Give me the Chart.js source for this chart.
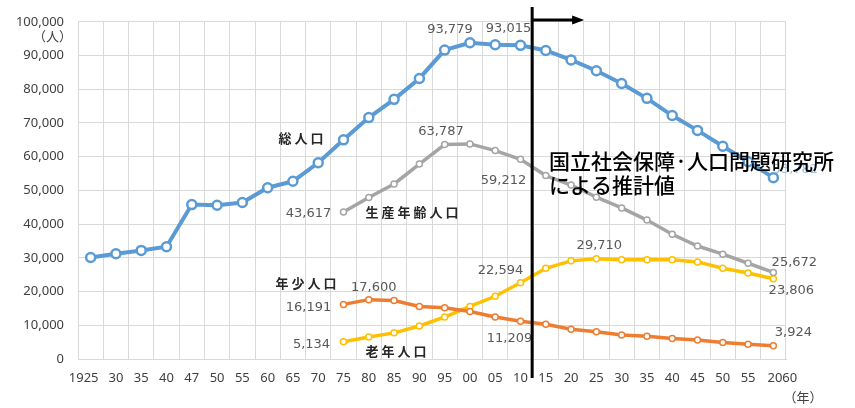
<!DOCTYPE html>
<html lang="ja">
<head>
<meta charset="utf-8">
<script src="https://cdn.jsdelivr.net/npm/chart.js@4.4.1/dist/chart.umd.min.js"></script>
<style>
  html, body { margin: 0; padding: 0; background: #fff; }
  #wrap { width: 855px; height: 408px; position: relative; }
</style>
</head>
<body>
<div id="wrap"><canvas id="c"></canvas></div>
<script>
// Population by age group, 1925-2060 (estimates after 2010)
const years = ["1925", "30", "35", "40", "47", "50", "55", "60", "65", "70", "75", "80", "85", "90",
  "95", "00", "05", "10", "15", "20", "25", "30", "35", "40", "45", "50", "55", "2060"];

const total = [30100, 31200, 32200, 33300, 45800, 45600, 46400, 50800, 52700, 58200, 65000, 71600,
  77000, 83200, 91600, 93779, 93200, 93015, 91500, 88700, 85500, 81700, 77300, 72200, 67800,
  63100, 58500, 53782];

// 1975 onwards only
const pad = [null, null, null, null, null, null, null, null, null, null];
const working = pad.concat([43617, 47900, 51900, 57800, 63600, 63787, 61800, 59212, 54400, 51600,
  48000, 44800, 41200, 37000, 33500, 31100, 28400, 25672]);
const young = pad.concat([16191, 17600, 17350, 15600, 15200, 14100, 12450, 11209, 10300, 8800,
  8050, 7100, 6750, 6100, 5600, 4900, 4400, 3924]);
const old = pad.concat([5134, 6550, 7750, 9800, 12450, 15600, 18600, 22594, 26900, 29100,
  29710, 29400, 29400, 29400, 28800, 26900, 25500, 23806]);

const yTicks = [0, 10000, 20000, 30000, 40000, 50000, 60000, 70000, 80000, 90000, 100000];

const BLUE = "#5B9BD5";
const GRAY = "#A5A5A5";
const ORANGE = "#ED7D31";
const YELLOW = "#FFC000";
const GRID = "#D9D9D9";
const TICK = "#404040";
const LABEL = "#595959";

const fmt = (v) => v.toLocaleString("en-US");

// which points get a value label, and where it sits relative to the point
const valueLabels = [
  { ds: 0, i: 15, dx: -20, dy: -13 },
  { ds: 0, i: 17, dx: -12, dy: -17 },
  { ds: 0, i: 27, dx: 22, dy: -8, color: "#9DBDE0" },
  { ds: 1, i: 10, dx: -35, dy: 2 },
  { ds: 1, i: 15, dx: -29, dy: -12 },
  { ds: 1, i: 17, dx: -17, dy: 21 },
  { ds: 1, i: 27, dx: 21, dy: -10 },
  { ds: 2, i: 10, dx: -35, dy: 3 },
  { ds: 2, i: 11, dx: 5, dy: -12 },
  { ds: 2, i: 17, dx: -11, dy: 17 },
  { ds: 2, i: 27, dx: 20, dy: -13 },
  { ds: 3, i: 10, dx: -32, dy: 3 },
  { ds: 3, i: 17, dx: -20, dy: -12 },
  { ds: 3, i: 20, dx: 3, dy: -13 },
  { ds: 3, i: 27, dx: 18, dy: 12 },
];

const seriesNames = [
  { text: "総人口", x: 301, y: 138 },
  { text: "生産年齢人口", x: 412, y: 212 },
  { text: "年少人口", x: 306, y: 283 },
  { text: "老年人口", x: 396, y: 351 },
];

const overlay = {
  id: "overlay",
  afterDatasetsDraw(chart) {
    const { ctx, scales: { x } } = chart;
    ctx.save();

    // x tick labels (the two four-digit end labels sit a little outward)
    ctx.font = "13px 'Noto Sans', sans-serif";
    ctx.fillStyle = TICK;
    ctx.textAlign = "center";
    ctx.textBaseline = "middle";
    const last = years.length - 1;
    years.forEach((t, i) => {
      const nudge = i === 0 ? -7 : i === last ? 9 : 0;
      ctx.fillText(t, x.getPixelForValue(i) + nudge, 378);
    });

    // value labels
    ctx.font = "13px 'DejaVu Sans', sans-serif";
    valueLabels.forEach((l) => {
      const pt = chart.getDatasetMeta(l.ds).data[l.i];
      const v = chart.data.datasets[l.ds].data[l.i];
      ctx.fillStyle = l.color || LABEL;
      ctx.fillText(fmt(v), pt.x + l.dx, pt.y + l.dy);
    });

    // series names
    ctx.font = "bold 13px 'Noto Sans CJK JP', sans-serif";
    ctx.fillStyle = "#262626";
    ctx.letterSpacing = "3px";
    seriesNames.forEach((s) => ctx.fillText(s.text, s.x + 1.5, s.y));
    ctx.letterSpacing = "0px";

    // divider between census and projection
    const xd = (x.getPixelForValue(17) + x.getPixelForValue(18)) / 2 - 1;
    ctx.strokeStyle = "#000";
    ctx.lineWidth = 3;
    ctx.beginPath();
    ctx.moveTo(xd, 7);
    ctx.lineTo(xd, 378);
    ctx.moveTo(xd, 20);
    ctx.lineTo(xd + 42, 20);
    ctx.stroke();
    ctx.fillStyle = "#000";
    ctx.beginPath();
    ctx.moveTo(xd + 40, 15.5);
    ctx.lineTo(xd + 52, 20);
    ctx.lineTo(xd + 40, 24.5);
    ctx.closePath();
    ctx.fill();

    // annotation
    ctx.font = "500 21px 'Noto Sans CJK JP', sans-serif";
    ctx.textAlign = "left";
    ctx.textBaseline = "alphabetic";
    ctx.fillStyle = "#000";
    ctx.fillText("国立社会保障·人口問題研究所", 549, 169);
    ctx.fillText("による推計値", 549, 193);

    // units
    ctx.font = "13px 'Noto Sans CJK JP', sans-serif";
    ctx.fillStyle = TICK;
    ctx.textAlign = "right";
    ctx.textBaseline = "middle";
    ctx.fillText("（人）", 72, 36);
    ctx.textAlign = "center";
    ctx.fillText("（年）", 803, 397);
    ctx.restore();
  },
};

const line = (data, color, width, radius, bw) => ({
  data,
  borderColor: color,
  borderWidth: width,
  pointBackgroundColor: "#fff",
  pointBorderColor: color,
  pointBorderWidth: bw,
  pointRadius: radius,
  tension: 0,
  spanGaps: false,
});

new Chart(document.getElementById("c"), {
  type: "line",
  data: {
    labels: years,
    datasets: [
      line(total, BLUE, 4, 4.5, 2.5),
      line(working, GRAY, 3.5, 3, 1.5),
      line(young, ORANGE, 3.5, 3, 1.5),
      line(old, YELLOW, 3.5, 3, 1.5),
    ],
  },
  options: {
    responsive: true,
    maintainAspectRatio: false,
    animation: false,
    layout: { padding: { top: 19, right: 69, left: 0, bottom: 0 } },
    plugins: { legend: { display: false }, tooltip: { enabled: false } },
    scales: {
      x: {
        offset: true,
        grid: { offset: true, color: GRID, drawTicks: false },
        border: { color: GRID },
        ticks: { display: false, autoSkip: false },
        afterFit: (s) => { s.height = 49; },
      },
      y: {
        min: 0,
        max: 100000,
        afterBuildTicks: (s) => { s.ticks = yTicks.map((v) => ({ value: v })); },
        grid: { color: GRID, drawTicks: false },
        border: { color: GRID },
        ticks: {
          padding: 14,
          color: TICK,
          font: { family: "'Noto Sans', sans-serif", size: 13 },
          callback: (v) => fmt(v),
        },
        afterFit: (s) => { s.width = 78; },
      },
    },
  },
  plugins: [overlay],
});
</script>
</body>
</html>
